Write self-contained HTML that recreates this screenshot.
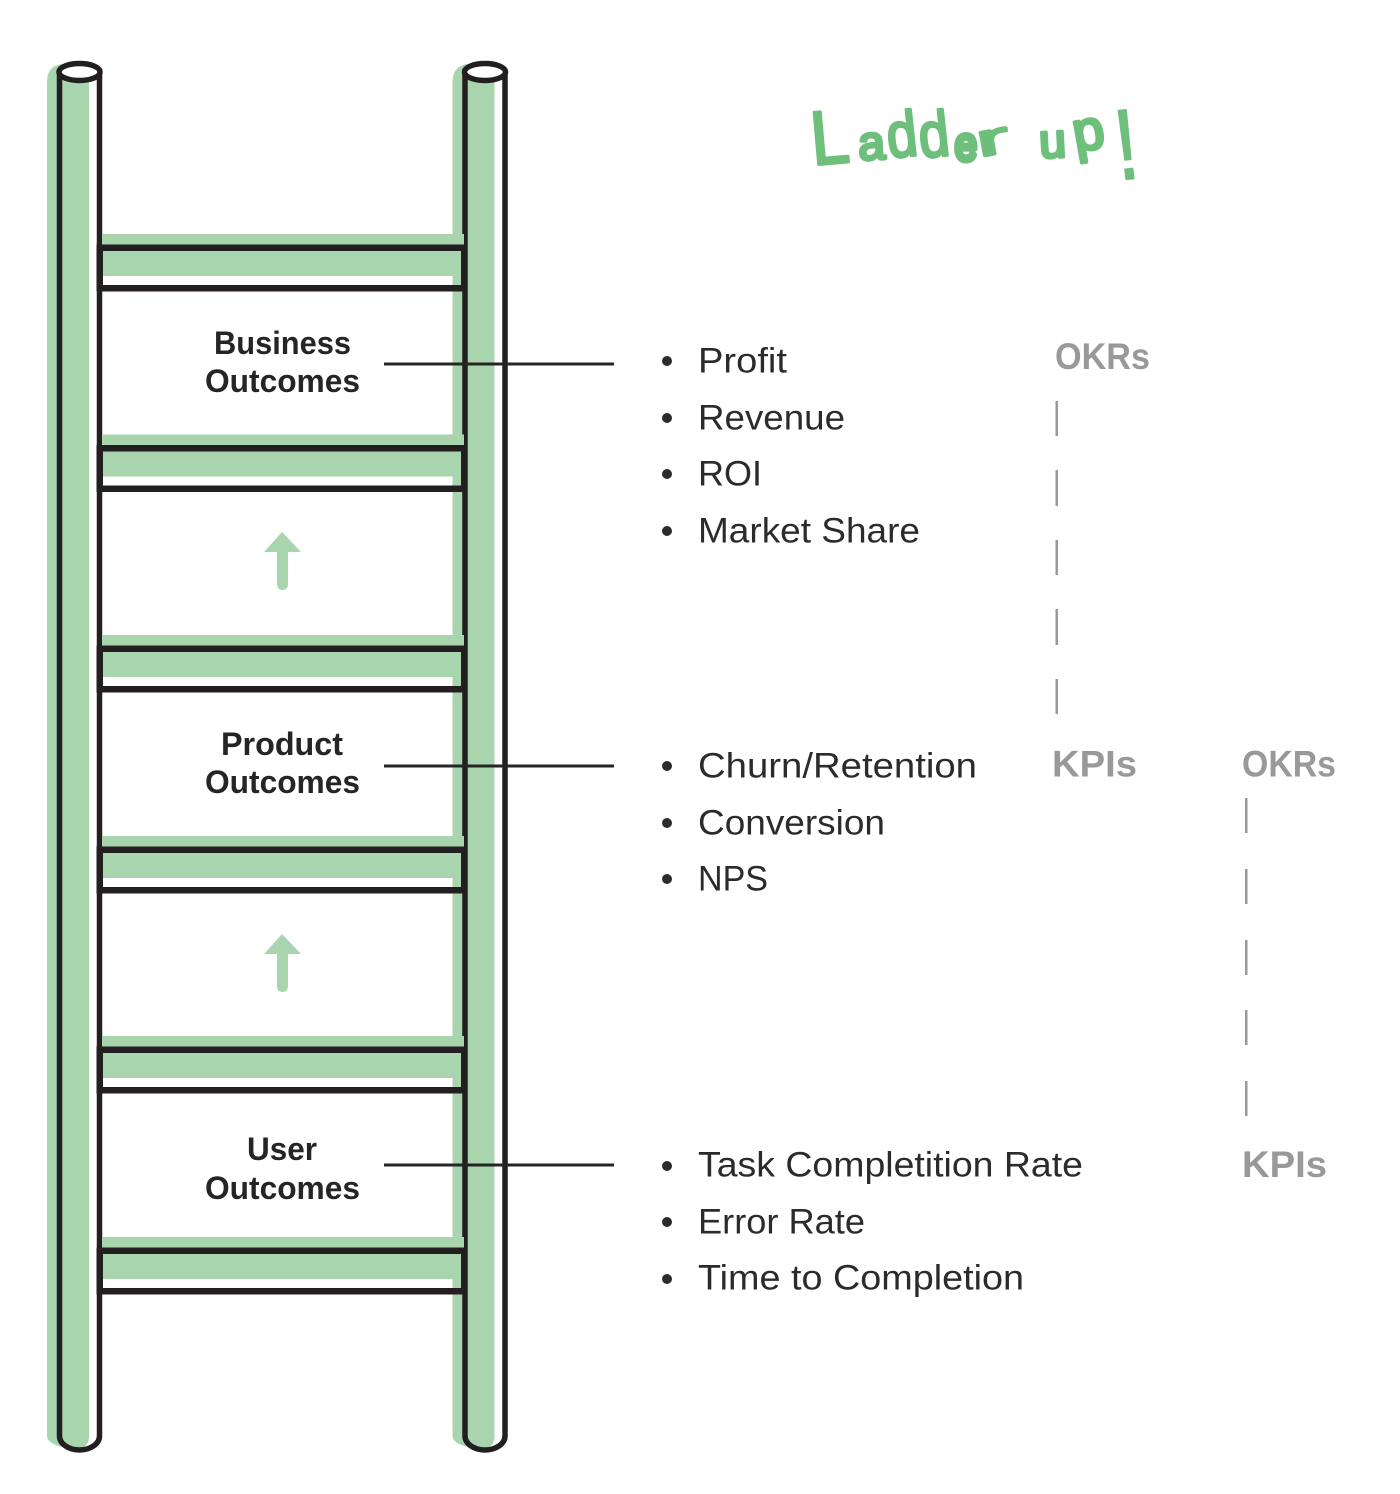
<!DOCTYPE html>
<html><head><meta charset="utf-8"><style>
html,body{margin:0;padding:0;background:#fff;width:1400px;height:1494px;overflow:hidden}
svg{display:block}
.l{font:35px "Liberation Sans",sans-serif;fill:#2b2b2b}
.b{font:bold 32px "Liberation Sans",sans-serif;fill:#252525}
.g{font:bold 37px "Liberation Sans",sans-serif;fill:#999}
.h{font-family:"Liberation Sans",sans-serif;fill:#6dbf7b;stroke:#6dbf7b;stroke-linejoin:round;stroke-linecap:round}
</style></head><body>
<svg width="1400" height="1494" viewBox="0 0 1400 1494" xmlns="http://www.w3.org/2000/svg">
<defs>
<g id="rung">
<rect x="102" y="-11" width="362" height="42" fill="#a8d5ad"/>
<rect x="96.5" y="-0.500" width="371" height="6.500" fill="#231f20"/>
<rect x="96.5" y="40" width="371" height="6.500" fill="#231f20"/>
<rect x="96.5" y="-0.500" width="6.500" height="47" fill="#231f20"/>
<rect x="461" y="-0.500" width="6.500" height="47" fill="#231f20"/>
</g>
<g id="pole">
<path d="M47 82Q47 66 62 64L89 64V1436Q89 1449 75 1449Q47 1446 47 1436Z" fill="#a8d5ad"/>
<path d="M59.5 72V1436A20 14 0 0 0 99.500 1436V72" fill="none" stroke="#231f20" stroke-width="5.500"/>
<ellipse cx="79.500" cy="72" rx="20.500" ry="8.500" fill="#fff" stroke="#231f20" stroke-width="5.500"/>
</g>
<path id="arrow" d="M282 0L301 20H288V52Q288 58 282.500 58Q277 58 277 52V20H264Z" fill="#a8d5ad"/>
</defs>

<use href="#pole"/>
<use href="#pole" x="405.500"/>

<use href="#rung" y="245"/>
<use href="#rung" y="445.500"/>
<use href="#rung" y="646"/>
<use href="#rung" y="847"/>
<use href="#rung" y="1047"/>
<use href="#rung" y="1248"/>

<use href="#arrow" y="532"/>
<use href="#arrow" y="934"/>

<g fill="#252525">
<rect x="384" y="362.500" width="230" height="3"/>
<rect x="384" y="764.500" width="230" height="3"/>
<rect x="384" y="1163.500" width="230" height="3"/>
</g>

<text class="b" x="214" y="354" textLength="137" lengthAdjust="spacingAndGlyphs">Business</text>
<text class="b" x="205" y="392" textLength="155" lengthAdjust="spacingAndGlyphs">Outcomes</text>
<text class="b" x="221" y="755" textLength="122" lengthAdjust="spacingAndGlyphs">Product</text>
<text class="b" x="205" y="793" textLength="155" lengthAdjust="spacingAndGlyphs">Outcomes</text>
<text class="b" x="247" y="1160" textLength="70" lengthAdjust="spacingAndGlyphs">User</text>
<text class="b" x="205" y="1199" textLength="155" lengthAdjust="spacingAndGlyphs">Outcomes</text>

<g fill="#2b2b2b">
<circle cx="667" cy="361" r="5"/><circle cx="667" cy="418" r="5"/><circle cx="667" cy="474" r="5"/><circle cx="667" cy="531" r="5"/>
<circle cx="667" cy="766" r="5"/><circle cx="667" cy="823" r="5"/><circle cx="667" cy="879" r="5"/>
<circle cx="667" cy="1166" r="5"/><circle cx="667" cy="1222" r="5"/><circle cx="667" cy="1279" r="5"/>
</g>
<text class="l" x="698" y="372.500" textLength="89" lengthAdjust="spacingAndGlyphs">Profit</text>
<text class="l" x="698" y="429.500" textLength="147" lengthAdjust="spacingAndGlyphs">Revenue</text>
<text class="l" x="698" y="485.500" textLength="64" lengthAdjust="spacingAndGlyphs">ROI</text>
<text class="l" x="698" y="542.500" textLength="222" lengthAdjust="spacingAndGlyphs">Market Share</text>
<text class="l" x="698" y="777.500" textLength="279" lengthAdjust="spacingAndGlyphs">Churn/Retention</text>
<text class="l" x="698" y="834.500" textLength="187" lengthAdjust="spacingAndGlyphs">Conversion</text>
<text class="l" x="698" y="890.500" textLength="70" lengthAdjust="spacingAndGlyphs">NPS</text>
<text class="l" x="698" y="1176.500" textLength="385" lengthAdjust="spacingAndGlyphs">Task Completition Rate</text>
<text class="l" x="698" y="1233.500" textLength="167" lengthAdjust="spacingAndGlyphs">Error Rate</text>
<text class="l" x="698" y="1289.500" textLength="326" lengthAdjust="spacingAndGlyphs">Time to Completion</text>

<text class="g" x="1055" y="369" textLength="95" lengthAdjust="spacingAndGlyphs">OKRs</text>
<text class="g" x="1052" y="776.500" textLength="85" lengthAdjust="spacingAndGlyphs">KPIs</text>
<text class="g" x="1242" y="776.500" textLength="94" lengthAdjust="spacingAndGlyphs">OKRs</text>
<text class="g" x="1242" y="1177" textLength="85" lengthAdjust="spacingAndGlyphs">KPIs</text>

<g fill="#999">
<rect x="1055.500" y="401" width="2.500" height="35"/>
<rect x="1055.500" y="470" width="2.500" height="36"/>
<rect x="1055.500" y="540" width="2.500" height="35"/>
<rect x="1055.500" y="609" width="2.500" height="36"/>
<rect x="1055.500" y="679" width="2.500" height="35"/>
<rect x="1245" y="798" width="2.500" height="35"/>
<rect x="1245" y="869" width="2.500" height="35"/>
<rect x="1245" y="940" width="2.500" height="35"/>
<rect x="1245" y="1010" width="2.500" height="35"/>
<rect x="1245" y="1081" width="2.500" height="35"/>
</g>

<text class="h" font-size="76" stroke-width="3" transform="translate(813 165) rotate(-5) scale(.9,1)">L</text>
<text class="h" font-size="48" stroke-width="3.500" transform="translate(859 160) rotate(-3)">a</text>
<text class="h" font-size="64" stroke-width="3" transform="translate(889 158) rotate(-6) scale(.85,1)">d</text>
<text class="h" font-size="64" stroke-width="3" transform="translate(921 158) rotate(-6) scale(.85,1)">d</text>
<text class="h" font-size="46" stroke-width="6" transform="translate(955 160) scale(.85,1)">e</text>
<text class="h" font-size="46" stroke-width="2.500" transform="translate(979 157) rotate(-10) scale(2.100,1)">r</text>
<text class="h" font-size="48" stroke-width="3.500" transform="translate(1040 158) rotate(-3)">u</text>
<text class="h" font-size="56" stroke-width="3.500" transform="translate(1076 152) rotate(-10)">p</text>
<text class="h" font-size="100" stroke-width="2" transform="translate(1119 180) rotate(-6.500) scale(.8,1)">!</text>
</svg>
</body></html>
